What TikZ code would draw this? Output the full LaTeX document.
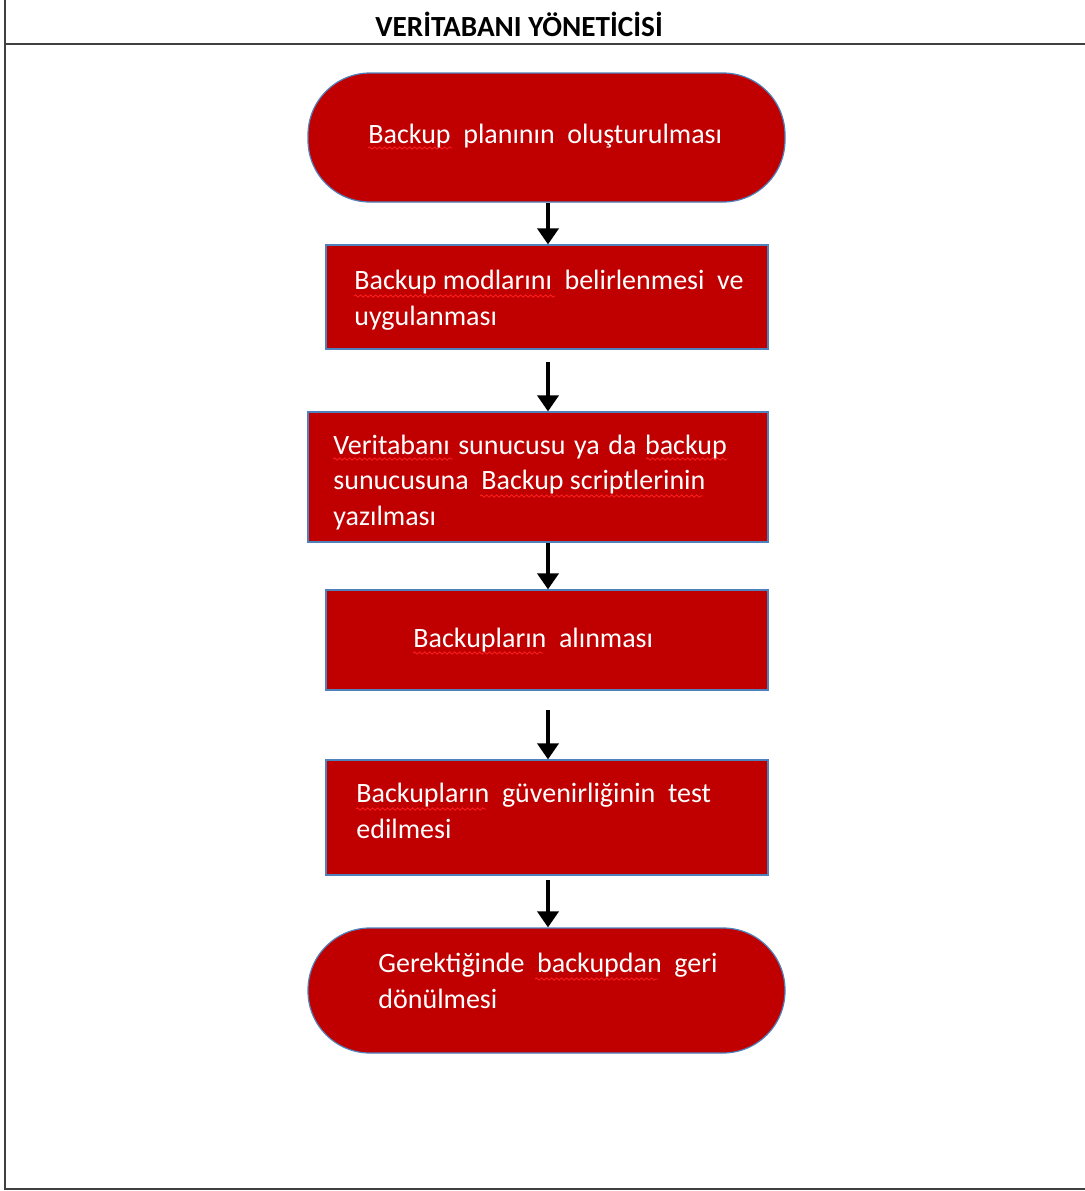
\documentclass[tikz,border=0pt]{standalone}
\usepackage{fontspec}
\setmainfont{Carlito}
\usetikzlibrary{arrows.meta,decorations.pathmorphing}
\definecolor{boxred}{HTML}{C00000}
\definecolor{boxedge}{HTML}{4F81BD}
\definecolor{framegray}{HTML}{404040}
\definecolor{spellred}{HTML}{FF2020}
\begin{document}
\begin{tikzpicture}[x=0.5pt,y=-0.5pt,
  stadium/.style={draw=boxedge,line width=0.6pt,fill=boxred,rounded corners=31pt,inner sep=0pt},
  procbox/.style={draw=boxedge,line width=0.6pt,fill=boxred,inner sep=0pt},
  lbl/.style={anchor=base west,inner sep=0pt,text=white,font=\fontsize{14}{17.75}\selectfont,align=left},
  flow/.style={line width=1.8pt,-{Triangle[width=10.5pt,length=8pt]}},
  frameline/.style={draw=framegray,line width=1pt},
  squig/.style={draw=spellred,line width=0.4pt,decorate,decoration={snake,amplitude=0.6pt,segment length=2.5pt}}]
\useasboundingbox (0,0) rectangle (1085,1191);
% frame
\draw[frameline] (5,0) -- (5,1189) -- (1085,1189);
\draw[frameline] (5,44) -- (1085,44);
\node[anchor=base,inner sep=0pt,font=\bfseries\fontsize{14.6}{16}\selectfont] (title) at (519,36) {VERİTABANI YÖNETİCİSİ};
% shapes
\node[stadium,minimum width=238.5pt,minimum height=64.5pt] (b1) at (546.5,137.5) {};
\node[procbox,minimum width=221pt,minimum height=52pt] (b2) at (547,297) {};
\node[procbox,minimum width=230pt,minimum height=65pt] (b3) at (538,477) {};
\node[procbox,minimum width=221pt,minimum height=50pt] (b4) at (547,640) {};
\node[procbox,minimum width=221pt,minimum height=57.5pt] (b5) at (547,817.5) {};
\node[stadium,minimum width=238.5pt,minimum height=62.5pt] (b6) at (546.5,990.5) {};
% spelling marks
\draw[squig] (368,148) -- (452,148);
\draw[squig] (354,296) -- (555,296);
\draw[squig] (333,459) -- (453,459);
\draw[squig] (646,459) -- (727,459);
\draw[squig] (480,496) -- (703,496);
\draw[squig] (413,653) -- (543,653);
\draw[squig] (356,809) -- (486,809);
\draw[squig] (535,979) -- (658,979);
% texts
\node[lbl] (t1) at (368,143) {Backup\ \ planının\ \ oluşturulması};
\node[lbl] (t2) at (354,325) {Backup\ modlarını\ \ belirlenmesi\ \ ve\\uygulanması};
\node[lbl] (t3) at (333,525) {Veritabanı\hspace{4.3pt}sunucusu\hspace{4.3pt}ya\hspace{4.3pt}da\hspace{4.3pt}backup\\sunucusuna\ \ Backup\ scriptlerinin\\yazılması};
\node[lbl] (t4) at (413,647) {Backupların\ \ alınması};
\node[lbl] (t5) at (356,838) {Backupların\ \ güvenirliğinin\ \ test\\edilmesi};
\node[lbl] (t6) at (378,1008) {Gerektiğinde\ \ backupdan\ \ geri\\dönülmesi};
% arrows
\coordinate (a2s) at (548,362);
\coordinate (a4s) at (548,710);
\coordinate (a5s) at (548,880);
\draw[flow] (b1.south -| 548,0) -- (b2.north -| 548,0);
\draw[flow] (a2s) -- (b3.north -| 548,0);
\draw[flow] (b3.south -| 548,0) -- (b4.north -| 548,0);
\draw[flow] (a4s) -- (b5.north -| 548,0);
\draw[flow] (a5s) -- (b6.north -| 548,0);
\end{tikzpicture}
\end{document}
